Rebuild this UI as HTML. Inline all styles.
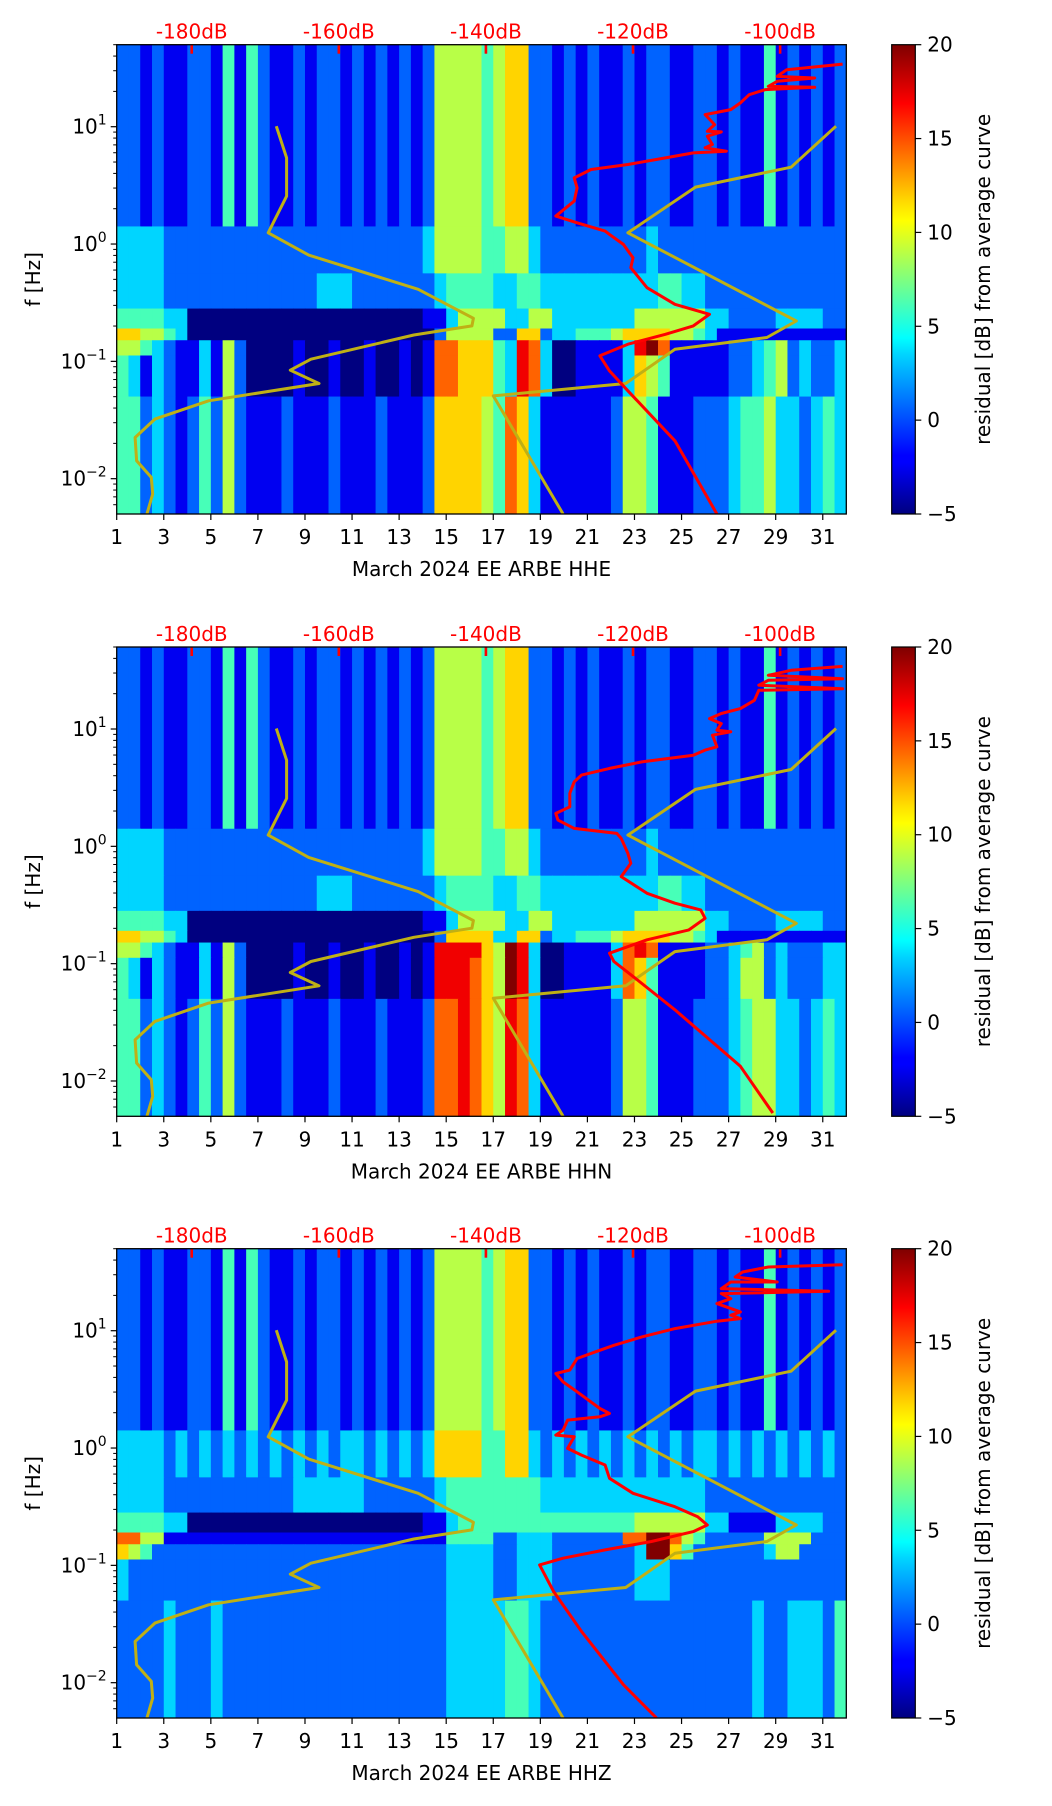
<!DOCTYPE html>
<html><head><meta charset="utf-8"><style>
html,body{margin:0;padding:0;background:#fff;}
svg{display:block;font-family:"DejaVu Sans","Liberation Sans",sans-serif;}
</style></head><body>
<svg id="fig" width="1052" height="1806" viewBox="0 0 1052 1806" xmlns="http://www.w3.org/2000/svg">
<defs>
<linearGradient id="jet" x1="0" y1="1" x2="0" y2="0">
<stop offset="0" stop-color="#00007f"/><stop offset="0.11" stop-color="#0000ff"/><stop offset="0.125" stop-color="#0000ff"/>
<stop offset="0.34" stop-color="#00d4ff"/><stop offset="0.375" stop-color="#00ffff"/><stop offset="0.5" stop-color="#7fff7f"/>
<stop offset="0.625" stop-color="#ffff00"/><stop offset="0.66" stop-color="#ffe000"/><stop offset="0.875" stop-color="#ff0000"/><stop offset="1" stop-color="#7f0000"/>
</linearGradient>
</defs>
</svg>
<script>
// ---------- data ----------
const xTicks = [1,3,5,7,9,11,13,15,17,19,21,23,25,27,29,31];
const dbTicks = [-180,-160,-140,-120,-100];
const yTickExps = [-2,-1,0,1];
const cbTicks = [-5,0,5,10,15,20];
const bandEdgesLogF = [1.699,0.15,-0.25,-0.55,-0.72,-0.82,-0.95,-1.3,-2.301];
const heatHHE = [
"22121122141421121221212121255554566221212112122112212114121212",
"33332222222222222222222222355554455322222222232222222222222222",
"33332222222222222333222222234444334433333333334433222222222222",
"44443300000000000000000000113555533553333333555555332222333322",
"66554300000000000000000000025555226623344456666554311111111111",
"55432113152000010010010010177666438730011113897111112234523223",
"43132113152000010010010010177666438730011113654111112234523223",
"44232124252111211121112111266665476311111125541112223445332343"];
const heatHHN = [
"22121122141421121221212121255554566221212112122112212114121212",
"33332222222222222222222222355554455322222222232222222222222222",
"33332222222222222333222222234444334433333333334433222222222222",
"44443300000000000000000000113555533553333333555555332222333322",
"66554300000000000000000000026666336623344456666554311111111111",
"55432113152000010010010010188886598300111137871111223452322233",
"43132113152000010010010010188876598300111137641111223552322233",
"44232124252111211121112111277876587311111125541112223455332343"];
const heatHHZ = [
"22121122141421121221212121255554566221212112122112212114121212",
"33332323232323232323323232366664466323232323232323323232323232",
"33332222222222233333322222234444444433333333333333222222222222",
"44443300000000000000000000113444444444444444555555331111333322",
"77551111111111111111111111114444223332222227799754222225555222",
"65422222222222222222222222223333223332222222399642222223552222",
"32222222222222222222222222223333223332222222333222222222222222",
"22223222322222222222222222223333344322222222222222222232233324"];
const nlnmDb   = [-168.5,-167.1,-167.1,-169.6,-164.1,-149.2,-141.7,-141.9,-149.8,-163.8,-166.6,-162.7,-177.7,-185.0,-187.7,-187.5,-185.5,-185.3,-186.1];
const nlnmLogF = [1.004,0.734,0.408,0.096,-0.094,-0.386,-0.633,-0.698,-0.775,-0.982,-1.075,-1.189,-1.336,-1.492,-1.649,-1.847,-1.989,-2.131,-2.301];
const nhnmDb   = [-92.4,-98.5,-111.5,-120.7,-97.8,-101.8,-114.3,-121.0,-139.0,-129.5];
const nhnmLogF = [1.004,0.655,0.485,0.096,-0.656,-0.797,-0.897,-1.189,-1.294,-2.301];
const redHHEDb   = [-91.5,-99.1,-100.4,-95.3,-100.4,-101.6,-95.3,-102.0,-104.2,-105.4,-106.7,-110.2,-108.9,-109.9,-108.0,-109.9,-109.2,-110.2,-107.3,-111.8,-115.6,-120.7,-125.7,-128.0,-127.6,-128.0,-130.5,-127.6,-123.8,-123.2,-121.3,-120.0,-120.3,-118.1,-114.3,-109.6,-111.8,-115.6,-120.7,-124.5,-123.2,-120.7,-114.3,-108.6];
const redHHELogF = [1.534,1.486,1.429,1.415,1.387,1.344,1.336,1.316,1.273,1.203,1.146,1.103,1.018,0.961,0.956,0.919,0.848,0.820,0.791,0.777,0.734,0.678,0.635,0.564,0.479,0.366,0.238,0.181,0.110,0.082,-0.003,-0.117,-0.202,-0.372,-0.514,-0.599,-0.698,-0.769,-0.854,-0.953,-1.081,-1.251,-1.677,-2.301];
const redHHNDb   = [-91.5,-98.5,-101.6,-91.5,-101.6,-102.9,-91.5,-102.9,-103.5,-105.4,-108.0,-109.6,-108.0,-108.6,-106.7,-109.2,-108.6,-110.2,-111.8,-118.8,-123.2,-127.0,-128.0,-128.6,-128.6,-130.5,-130.2,-128.0,-122.2,-121.6,-120.7,-120.3,-121.6,-118.1,-114.3,-110.8,-110.2,-112.4,-118.1,-123.2,-122.6,-120.0,-114.3,-108.0,-105.4,-101.0];
const redHHNLogF = [1.534,1.500,1.458,1.429,1.415,1.373,1.344,1.330,1.245,1.174,1.132,1.089,1.046,0.990,0.976,0.947,0.848,0.820,0.777,0.720,0.664,0.607,0.550,0.451,0.337,0.281,0.224,0.153,0.110,0.068,-0.060,-0.145,-0.258,-0.400,-0.485,-0.542,-0.613,-0.712,-0.797,-0.911,-0.982,-1.109,-1.393,-1.734,-1.875,-2.273];
const redHHZDb   = [-91.5,-101.6,-105.1,-106.1,-100.4,-106.7,-108.0,-93.4,-108.0,-106.7,-108.6,-105.4,-106.7,-105.4,-108.6,-114.3,-118.8,-122.6,-125.1,-127.6,-128.6,-130.5,-129.5,-127.6,-124.5,-123.2,-124.5,-128.9,-129.5,-130.5,-128.0,-128.9,-127.0,-123.8,-123.2,-120.0,-114.3,-111.2,-109.9,-111.8,-117.5,-123.8,-129.5,-132.7,-130.8,-127.0,-121.3,-116.8];
const redHHZLogF = [1.563,1.543,1.500,1.458,1.415,1.415,1.359,1.336,1.316,1.273,1.231,1.160,1.132,1.103,1.081,1.018,0.947,0.876,0.820,0.763,0.664,0.635,0.564,0.479,0.337,0.295,0.266,0.238,0.153,0.110,0.096,-0.003,-0.060,-0.145,-0.258,-0.386,-0.500,-0.585,-0.656,-0.712,-0.797,-0.868,-0.939,-0.996,-1.223,-1.563,-2.017,-2.301];

// ---------- layout ----------
const NS = "http://www.w3.org/2000/svg";
const svg = document.getElementById('fig');
const X0 = 116.7, X1 = 846.3, PH = 469.3;
const DAY0 = 1, DAY1 = 32, DB0 = -190.2, DB1 = -91.0, LF0 = -2.301, LF1 = 1.699;
const CBX0 = 891.7, CBX1 = 915.3;
function xDay(d){ return X0 + (d-DAY0)/(DAY1-DAY0)*(X1-X0); }
function xDb(db){ return X0 + (db-DB0)/(DB1-DB0)*(X1-X0); }
function yLog(top, lf){ return top + (LF1-lf)/(LF1-LF0)*PH; }
function jet(t){
  t=Math.max(0,Math.min(1,t));
  const c=v=>Math.round(255*Math.max(0,Math.min(1,v)));
  return `rgb(${c(1.5-Math.abs(4*t-3))},${c(1.5-Math.abs(4*t-2))},${c(1.5-Math.abs(4*t-1))})`;
}
function el(tag, attrs, parent){
  const e=document.createElementNS(NS,tag);
  for(const k in attrs) e.setAttribute(k, attrs[k]);
  (parent||svg).appendChild(e); return e;
}
const panels = [
  {top:44.7, heat:heatHHE, redDb:redHHEDb, redLf:redHHELogF, comp:'HHE'},
  {top:647.0, heat:heatHHN, redDb:redHHNDb, redLf:redHHNLogF, comp:'HHN'},
  {top:1248.7, heat:heatHHZ, redDb:redHHZDb, redLf:redHHZLogF, comp:'HHZ'}
];
panels.forEach((p,pi)=>{
  const top=p.top, bot=top+PH;
  const g=el('g',{});
  
  
  const clipId='clip'+pi;
  const cp=el('clipPath',{id:clipId},g); el('rect',{x:X0,y:top,width:X1-X0,height:PH},cp);
  const hg=el('g',{'clip-path':`url(#${clipId})`},g);
  
  
  el('rect',{x:X0,y:top,width:X1-X0,height:PH,fill:'#00007f'},hg);
  p.heat.forEach((row,b)=>{
    const ya=yLog(top,bandEdgesLogF[b]), yb=yLog(top,bandEdgesLogF[b+1]);
    for(let j=0;j<row.length;j++){
      const L=+row[j]; const v=-5+L*25/9;
      const xa=xDay(DAY0+j*0.5), xb=xDay(DAY0+j*0.5+0.5);
      const r=el('rect',{x:xa,y:ya,width:xb-xa+0.6,height:yb-ya+0.6,fill:jet((v+5)/25)},hg);
      
      
    }
  });
  const lg=el('g',{'clip-path':`url(#${clipId})`,fill:'none','stroke-linejoin':'round'},g);
  function poly(dbs,lfs,color,w,name){
    const pts=dbs.map((d,i)=>xDb(d).toFixed(1)+','+yLog(top,lfs[i]).toFixed(1)).join(' ');
    const pl=el('polyline',{points:pts,stroke:color,'stroke-width':w},lg);
    
    
  }
  poly(nlnmDb,nlnmLogF,'#bfb015',3,'nlnm-curve');
  poly(nhnmDb,nhnmLogF,'#bfb015',3,'nhnm-curve');
  poly(p.redDb,p.redLf,'#ff0000',3,'average-curve');
  dbTicks.forEach(db=>{
    const x=xDb(db);
    const t=el('rect',{x:x-1.3,y:top,width:2.6,height:9,fill:'#ff0000'},g);
    
    
    const tx=el('text',{x:x,y:top-6,'font-size':20,fill:'#ff0000','text-anchor':'middle'},g);
    tx.textContent=db+'dB';
    
    
  });
  const fr=el('rect',{x:X0,y:top,width:X1-X0,height:PH,fill:'none',stroke:'#000','stroke-width':1.3},g);
  
  
  xTicks.forEach(d=>{
    const x=xDay(d);
    el('line',{x1:x,y1:bot,x2:x,y2:bot+6,stroke:'#000','stroke-width':1.2},g);
    const t=el('text',{x:x,y:bot+30,'font-size':20,'text-anchor':'middle',fill:'#000'},g);
    t.textContent=d;
    
    
  });
  const xl=el('text',{x:(X0+X1)/2,y:bot+62,'font-size':20,'text-anchor':'middle',fill:'#000'},g);
  xl.textContent='March 2024 EE ARBE  '+p.comp;
  
  
  for(let e=-3;e<=1;e++){
    for(let m=2;m<=9;m++){
      const lf=e+Math.log10(m); if(lf<LF0||lf>LF1) continue;
      const y=yLog(top,lf);
      el('line',{x1:X0-3.5,y1:y,x2:X0,y2:y,stroke:'#000','stroke-width':1},g);
    }
  }
  yTickExps.forEach(e=>{
    const y=yLog(top,e);
    el('line',{x1:X0-6,y1:y,x2:X0,y2:y,stroke:'#000','stroke-width':1.2},g);
    const t=el('text',{x:X0-10,y:y+7,'font-size':20,'text-anchor':'end',fill:'#000'},g);
    
    
    const a=el('tspan',{},t); a.textContent='10';
    const s=el('tspan',{dy:-9,'font-size':14},t); s.textContent=(e<0?'\u2212':'')+Math.abs(e);
  });
  const yl=el('text',{x:0,y:0,'font-size':20,'text-anchor':'middle',fill:'#000',transform:`translate(40,${top+PH/2}) rotate(-90)`},g);
  yl.textContent='f [Hz]';
  
  
  const cb=el('rect',{x:CBX0,y:top,width:CBX1-CBX0,height:PH,fill:'url(#jet)',stroke:'#000','stroke-width':1.2},g);
  
  
  cbTicks.forEach(v=>{
    const y=bot-(v+5)/25*PH;
    el('line',{x1:CBX1,y1:y,x2:CBX1+6,y2:y,stroke:'#000','stroke-width':1.2},g);
    const t=el('text',{x:CBX1+12,y:y+7,'font-size':20,fill:'#000'},g);
    t.textContent=(v<0?'\u2212':'')+Math.abs(v);
    
    
  });
  const cl=el('text',{x:0,y:0,'font-size':20,'text-anchor':'middle',fill:'#000',transform:`translate(990,${top+PH/2}) rotate(-90)`},g);
  cl.textContent='residual [dB] from average curve';
  
  
});
</script>
</body></html>
